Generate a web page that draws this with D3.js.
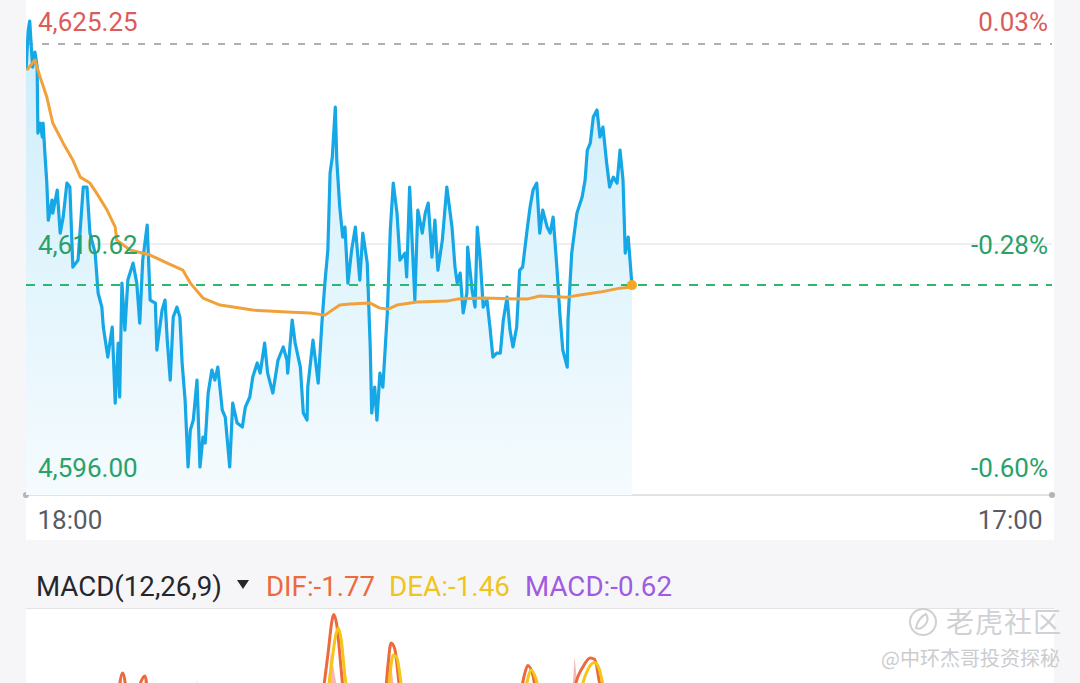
<!DOCTYPE html>
<html>
<head>
<meta charset="utf-8">
<script src="https://cdn.jsdelivr.net/npm/d3@7"></script>
<style>
  body { margin: 0; background: #f6f6f8; font-family: Roboto, 'Noto Sans', sans-serif; }
  svg { display: block; }
</style>
</head>
<body>
<svg id="chart" width="1080" height="683"></svg>
<script>
// minutes after 18:00 and last price
const priceMinutes = [0, 3, 5, 8, 9, 12, 15, 16, 19, 22, 23, 26, 28, 30, 35, 36, 42, 46, 50, 55, 59, 63, 70, 77, 82, 86, 93, 97, 102, 104,
  110, 116, 120, 124, 126, 129, 133, 137, 144, 149, 153, 157, 163, 167, 174, 176, 183, 187, 190, 194, 198, 203, 207, 210, 214, 218, 221, 225, 230, 234,
  238, 241, 245, 250, 254, 258, 264, 268, 274, 278, 284, 291, 295, 301, 305, 311, 315, 321, 325, 332, 339, 346, 351, 352, 358, 362, 369, 373, 378, 379,
  386, 393, 398, 402, 406, 409, 412, 416, 418, 422, 426, 429, 433, 438, 443, 449, 453, 459, 463, 465, 469, 472, 476, 480, 486, 490, 494, 499, 503, 510,
  512, 516, 523, 527, 533, 537, 541, 546, 550, 554, 560, 566, 573, 577, 580, 584, 588, 593, 594, 600, 604, 607, 611, 615, 620, 624, 628, 633, 638, 642,
  647, 651, 655, 660, 664, 668, 674, 678, 682, 687, 691, 695, 701, 705, 709, 714, 718, 722, 728, 729, 734, 741, 748, 752, 755, 759, 763, 768, 772, 776,
  781, 785, 790, 795, 799, 803, 806, 810, 815]
const priceValues = [4622.03, 4624.65, 4625.25, 4622.88, 4622.23, 4623.21, 4622.23, 4617.90, 4618.56, 4617.64, 4618.56, 4616.13, 4614.62, 4612.19, 4613.51, 4612.65, 4614.16, 4611.34, 4612.39, 4614.62, 4614.36, 4609.11, 4609.57, 4614.36, 4614.36, 4611.34, 4610.03, 4607.41, 4606.49, 4605.18,
  4603.21, 4605.18, 4600.19, 4604.13, 4600.59, 4608.06, 4604.98, 4608.26, 4609.37, 4608.06, 4605.44, 4609.57, 4611.87, 4606.95, 4606.75, 4603.67, 4606.29, 4606.95, 4604.32, 4601.70, 4605.83, 4606.49, 4605.83, 4602.82, 4600.39, 4596.00, 4598.42, 4599.08, 4601.70, 4596.00,
  4597.96, 4597.57, 4600.85, 4602.36, 4601.70, 4602.55, 4599.73, 4599.27, 4596.00, 4600.19, 4598.88, 4598.62, 4599.93, 4600.59, 4601.90, 4602.82, 4602.16, 4604.13, 4602.16, 4600.85, 4603.01, 4603.87, 4603.01, 4602.16, 4605.64, 4604.13, 4602.55, 4599.54, 4599.08, 4601.24,
  4604.32, 4601.50, 4605.44, 4608.06, 4610.23, 4615.28, 4616.33, 4619.60, 4616.13, 4613.05, 4611.08, 4611.73, 4608.06, 4610.23, 4611.73, 4608.26, 4611.34, 4609.37, 4603.87, 4599.54, 4601.24, 4599.08, 4602.16, 4601.24, 4606.10, 4611.54, 4614.62, 4612.65, 4609.57, 4610.03,
  4608.46, 4614.36, 4606.95, 4612.85, 4611.34, 4612.65, 4613.31, 4609.77, 4612.19, 4608.91, 4610.88, 4614.36, 4611.73, 4609.11, 4608.06, 4608.72, 4606.10, 4607.41, 4610.42, 4607.60, 4606.49, 4611.73, 4609.57, 4606.49, 4606.95, 4605.18, 4603.21, 4603.47, 4603.47, 4605.64,
  4607.14, 4604.98, 4603.87, 4605.18, 4608.91, 4609.11, 4611.54, 4613.05, 4614.16, 4614.62, 4611.34, 4612.85, 4611.73, 4611.34, 4612.39, 4609.11, 4606.10, 4603.67, 4602.55, 4605.64, 4610.03, 4612.65, 4613.70, 4614.82, 4616.78, 4617.24, 4618.95, 4619.41, 4617.64, 4618.29,
  4615.93, 4614.36, 4615.01, 4614.62, 4616.78, 4614.82, 4610.03, 4611.08, 4607.93]

// average price line
const avgMinutes = [1, 12, 19, 28, 36, 50, 63, 73, 86, 95, 109, 120, 122, 140, 167, 190, 211, 221, 238, 261, 305, 351, 382, 402, 422, 436, 463, 476, 487, 499, 526, 566, 580, 615, 674, 691, 728, 745, 772, 799, 815]
const avgValues = [4622.03, 4622.69, 4621.57, 4620.26, 4618.56, 4617.24, 4616.13, 4615.01, 4614.62, 4613.96, 4612.85, 4611.73, 4610.88, 4610.23, 4609.90, 4609.37, 4608.91, 4608.06, 4607.08, 4606.62, 4606.29, 4606.16, 4606.10, 4605.96, 4606.62, 4606.69, 4606.75, 4606.42, 4606.36, 4606.62, 4606.82, 4606.88, 4607.01, 4607.08, 4607.01, 4607.21, 4607.14, 4607.28, 4607.47, 4607.73, 4607.80]

const prevClose = 4623.74
const priceTicks = [4625.25, 4610.62, 4596.0]
const pctTicks = ['0.03%', '-0.28%', '-0.60%']
const timeTicks = [0, 1380]
const timeLabels = ['18:00', '17:00']

// MACD pane (only the tops of the peaks are inside the window)
const difMinutes = [0, 46, 100, 120, 130, 140, 160, 167, 194, 234, 274, 315, 355, 382, 398, 406, 412, 414, 418, 424, 429, 438, 456, 469, 480, 487, 491, 496, 502, 508, 530, 557, 584, 611, 638, 658, 670, 675, 682, 689, 705, 718, 732, 740, 749, 759, 765, 772, 785, 799, 815]
const difValues = [0.3, -1.5, -2.5, -0.5, 0.9, -0.3, 0.8, -0.5, -2.0, -3.5, -4.0, -3.0, -2.0, -1.5, 0.0, 1.5, 2.7, 2.85, 2.5, 1.0, -0.3, -1.0, -1.2, -2.5, -1.0, 1.2, 1.9, 1.7, 0.5, -0.5, -0.8, -1.0, -1.5, -1.8, -2.5, -1.0, 0.8, 1.15, 0.8, -0.2, -0.5, -2.0, -0.5, 0.6, 1.1, 1.4, 1.35, 0.5, -0.5, -1.2, -1.77]
const deaMinutes = [0, 46, 100, 130, 160, 194, 234, 274, 315, 355, 389, 402, 410, 417, 420, 424, 429, 436, 456, 476, 487, 494, 499, 506, 516, 557, 611, 638, 658, 673, 679, 686, 694, 718, 738, 752, 764, 770, 778, 799, 815]
const deaValues = [0.2, -0.8, -1.8, -0.8, -0.5, -1.5, -2.5, -3.3, -3.0, -2.3, -1.5, -0.5, 1.0, 2.2, 2.4, 2.0, 0.8, -0.3, -0.8, -1.5, 0.3, 1.5, 1.4, 0.3, -0.4, -0.8, -1.5, -2.0, -1.3, 0.5, 1.0, 0.7, -0.2, -1.0, -0.5, 0.8, 1.25, 1.1, 0.3, -0.8, -1.46]
const histMinutes = [0, 100, 125, 128, 132, 157, 160, 164, 227, 230, 234, 369, 404, 410, 417, 425, 449, 482, 488, 495, 503, 570, 664, 670, 678, 718, 734, 738, 742, 756, 772, 815]
const histValues = [0.1, -1.0, 0, 0.95, 0, 0, 0.75, 0, 0, 0.65, 0, -0.8, 0, 1.6, 0.6, 0, -0.6, 0, 1.85, 0.4, 0, -0.4, 0, 0.6, 0, -1.0, 0, 1.45, 0.3, 0.2, 0, -0.62]

const svg = d3.select('#chart')
const panel = { left: 26, right: 1054, top: 0, bottom: 540 }
const plot = { left: 26, right: 1052, top: 0, bottom: 495 }

const x = d3.scaleLinear().domain([0, 1380]).range([plot.left, plot.right])
const y = d3.scaleLinear().domain([4596, 4625.25]).range([467, 21])
const ym = d3.scaleLinear().domain([-6, 3]).range([880, 610])

const red = '#dc5b5b'
const green = '#2aa168'
const blue = '#16a7e6'
const orange = '#f0a13a'

const price = priceMinutes.map((t, i) => ({ t, v: priceValues[i] }))
const avg = avgMinutes.map((t, i) => ({ t, v: avgValues[i] }))

// background panels
svg.append('rect').attr('x', panel.left).attr('y', panel.top)
  .attr('width', panel.right - panel.left).attr('height', panel.bottom - panel.top).attr('fill', '#fff')
svg.append('rect').attr('x', panel.left).attr('y', 608)
  .attr('width', panel.right - panel.left).attr('height', 683 - 608).attr('fill', '#fff')
svg.append('line').attr('x1', panel.left).attr('x2', panel.right).attr('y1', 608.5).attr('y2', 608.5)
  .attr('stroke', '#e3e3e6').attr('stroke-width', 1)

const defs = svg.append('defs')
const grad = defs.append('linearGradient').attr('id', 'areaGrad')
  .attr('gradientUnits', 'userSpaceOnUse').attr('x1', 0).attr('x2', 0).attr('y1', 20).attr('y2', plot.bottom)
grad.append('stop').attr('offset', '0%').attr('stop-color', '#ccedfb')
grad.append('stop').attr('offset', '100%').attr('stop-color', '#f5fbfe')
defs.append('clipPath').attr('id', 'clipMain').append('rect')
  .attr('x', plot.left).attr('y', 0).attr('width', plot.right - plot.left).attr('height', plot.bottom)
defs.append('clipPath').attr('id', 'clipMacd').append('rect')
  .attr('x', plot.left).attr('y', 609).attr('width', plot.right - plot.left).attr('height', 200)

// mid grid line and bottom axis line
svg.append('line').attr('x1', plot.left).attr('x2', plot.right)
  .attr('y1', y(priceTicks[1])).attr('y2', y(priceTicks[1])).attr('stroke', '#dedee2').attr('stroke-width', 1)
svg.append('line').attr('x1', plot.left).attr('x2', plot.right)
  .attr('y1', plot.bottom).attr('y2', plot.bottom).attr('stroke', '#e2e2e6').attr('stroke-width', 2)
svg.selectAll('.enddot').data([plot.left, plot.right]).enter().append('circle')
  .attr('cx', (d) => d).attr('cy', plot.bottom).attr('r', 3).attr('fill', '#b4b4b8')

const main = svg.append('g').attr('clip-path', 'url(#clipMain)')

// area under price line
main.append('path').datum(price)
  .attr('d', d3.area().x((d) => x(d.t)).y0(plot.bottom).y1((d) => y(d.v)))
  .attr('fill', 'url(#areaGrad)')

// previous close line
main.append('line').attr('x1', plot.left).attr('x2', plot.right)
  .attr('y1', y(prevClose)).attr('y2', y(prevClose))
  .attr('stroke', '#aeaeb4').attr('stroke-width', 2).attr('stroke-dasharray', '7,9')

// price line
main.append('path').datum(price)
  .attr('d', d3.line().x((d) => x(d.t)).y((d) => y(d.v)))
  .attr('fill', 'none').attr('stroke', blue).attr('stroke-width', 3.2).attr('stroke-linejoin', 'round')

// average line
main.append('path').datum(avg)
  .attr('d', d3.line().x((d) => x(d.t)).y((d) => y(d.v)))
  .attr('fill', 'none').attr('stroke', orange).attr('stroke-width', 3).attr('stroke-linejoin', 'round')

// last price line
const last = price[price.length - 1]
main.append('line').attr('x1', plot.left).attr('x2', plot.right)
  .attr('y1', y(last.v)).attr('y2', y(last.v))
  .attr('stroke', '#2db870').attr('stroke-width', 2).attr('stroke-dasharray', '9,8')
main.append('circle').attr('cx', x(last.t)).attr('cy', y(last.v)).attr('r', 5).attr('fill', '#f5a623')

// left price labels
const leftAxis = svg.append('g').attr('transform', 'translate(' + 38 + ',0)')
  .call(d3.axisRight(y).tickValues(priceTicks).tickSize(0).tickPadding(0).tickFormat(d3.format(',.2f')))
leftAxis.select('.domain').remove()
leftAxis.selectAll('text').attr('font-family', 'Roboto').attr('font-size', 26)
  .attr('text-anchor', 'start').attr('dy', '0.38em')
  .attr('fill', (d, i) => (i === 0 ? red : green))

// right percent labels
const rightAxis = svg.append('g').attr('transform', 'translate(' + 1048 + ',0)')
  .call(d3.axisLeft(y).tickValues(priceTicks).tickSize(0).tickPadding(0).tickFormat((d, i) => pctTicks[i]))
rightAxis.select('.domain').remove()
rightAxis.selectAll('text').attr('font-family', 'Roboto').attr('font-size', 26)
  .attr('text-anchor', 'end').attr('dy', '0.38em')
  .attr('fill', (d, i) => (i === 0 ? red : green))

// time labels
const timeAxis = svg.append('g').attr('transform', 'translate(0,' + 520 + ')')
  .call(d3.axisBottom(x).tickValues(timeTicks).tickSize(0).tickPadding(0).tickFormat((d, i) => timeLabels[i]))
timeAxis.select('.domain').remove()
timeAxis.selectAll('text').attr('font-family', 'Roboto').attr('font-size', 26).attr('fill', '#575b66')
  .attr('dy', '0.36em')
  .attr('text-anchor', (d, i) => (i === 0 ? 'start' : 'end'))
  .attr('dx', (d, i) => (i === 0 ? 11 : -10))

// MACD header
const hdr = [
  { text: 'MACD(12,26,9)', x: 36, w: 186, color: '#26272b' },
  { text: 'DIF:-1.77', x: 266, w: 109, color: '#ec6a3c' },
  { text: 'DEA:-1.46', x: 389, w: 121, color: '#efc41e' },
  { text: 'MACD:-0.62', x: 525, w: 147, color: '#a05be0' },
]
svg.selectAll('.hdr').data(hdr).enter().append('text')
  .attr('x', (d) => d.x).attr('y', 596)
  .attr('font-family', 'Roboto').attr('font-size', 28).attr('fill', (d) => d.color)
  .attr('textLength', (d) => d.w).attr('lengthAdjust', 'spacingAndGlyphs')
  .text((d) => d.text)
svg.append('path').attr('d', 'M237,580 L249,580 L243,589 Z').attr('fill', '#26272b')

// MACD lines
const macdG = svg.append('g').attr('clip-path', 'url(#clipMacd)')
const hist = histMinutes.map((t, i) => ({ t, v: histValues[i] }))
macdG.append('path').datum(hist)
  .attr('d', d3.area().x((d) => x(d.t)).y0(ym(0)).y1((d) => ym(d.v)))
  .attr('fill', '#f29a9a').attr('opacity', 0.7)
macdG.append('path').datum(difMinutes.map((t, i) => ({ t, v: difValues[i] })))
  .attr('d', d3.line().curve(d3.curveMonotoneX).x((d) => x(d.t)).y((d) => ym(d.v)))
  .attr('fill', 'none').attr('stroke', '#ec6a3c').attr('stroke-width', 3)
macdG.append('path').datum(deaMinutes.map((t, i) => ({ t, v: deaValues[i] })))
  .attr('d', d3.line().curve(d3.curveMonotoneX).x((d) => x(d.t)).y((d) => ym(d.v)))
  .attr('fill', 'none').attr('stroke', '#f5c518').attr('stroke-width', 3)

// watermark
const wm = svg.append('g').attr('opacity', 0.85)
wm.append('circle').attr('cx', 923).attr('cy', 622).attr('r', 13)
  .attr('fill', 'none').attr('stroke', '#c9c9cc').attr('stroke-width', 2)
wm.append('path').attr('d', 'M916,628 Q918,618 926,614 Q930,620 924,626 Q920,630 916,628 Z')
  .attr('fill', 'none').attr('stroke', '#c9c9cc').attr('stroke-width', 2)
wm.append('text').attr('x', 946).attr('y', 633).attr('font-family', 'Noto Sans CJK SC')
  .attr('font-size', 28).attr('fill', '#cacace').attr('letter-spacing', 1).text('老虎社区')
wm.append('text').attr('x', 1060).attr('y', 666).attr('text-anchor', 'end').attr('font-family', 'Noto Sans CJK SC')
  .attr('font-size', 20).attr('fill', '#c4c4c8').text('@中环杰哥投资探秘')
</script>
</body>
</html>
